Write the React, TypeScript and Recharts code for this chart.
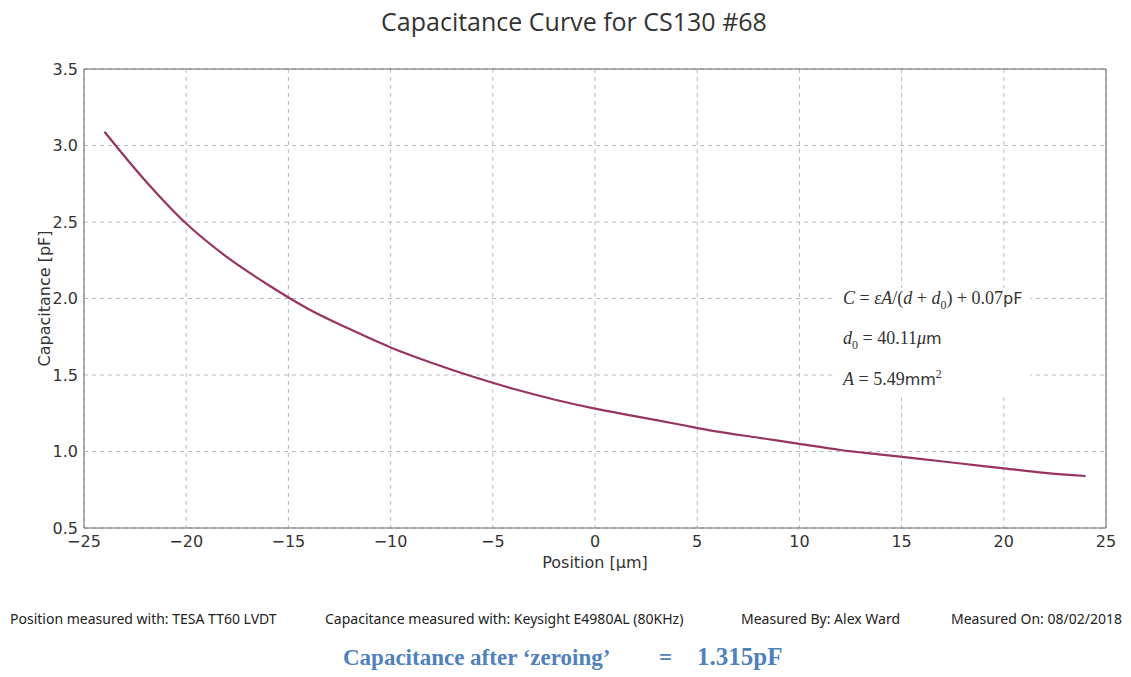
import React from "react";
import {
  LineChart,
  Line,
  XAxis,
  YAxis,
  CartesianGrid,
  ReferenceArea,
} from "recharts";

// position [µm] and capacitance [pF]
const POSITION = [
  -24, -22, -20, -18, -16, -14, -12, -10, -8, -6, -4, -2, 0, 2, 4, 6, 8, 10, 12,
  14, 16, 18, 20, 22, 24,
];
const CAPACITANCE = [
  3.09, 2.77, 2.49, 2.27, 2.09, 1.93, 1.8, 1.68, 1.58, 1.49, 1.41, 1.34, 1.28,
  1.23, 1.18, 1.13, 1.09, 1.05, 1.01, 0.98, 0.95, 0.92, 0.89, 0.86, 0.84,
];
const X_TICKS = [-25, -20, -15, -10, -5, 0, 5, 10, 15, 20, 25];
const Y_TICKS = [0.5, 1.0, 1.5, 2.0, 2.5, 3.0, 3.5];

const FOOTER = [
  { text: "Position measured with: TESA TT60 LVDT", left: 10 },
  { text: "Capacitance measured with: Keysight E4980AL (80KHz)", left: 325 },
  { text: "Measured By: Alex Ward", left: 741 },
  { text: "Measured On: 08/02/2018", left: 951 },
];

const data = POSITION.map((x, i) => ({ x, c: CAPACITANCE[i] }));

const tickStyle = { fill: "#333", fontSize: 16, fontFamily: "DejaVu Sans" };
const minus = (v: number) => (v < 0 ? `\u2212${Math.abs(v)}` : `${v}`);

const serif = { fontFamily: "Liberation Serif", fontSize: 18, color: "#333" };
const it = { fontStyle: "italic" as const };
const sans = { fontFamily: "DejaVu Sans", fontSize: 16 };

export default function App() {
  return (
    <div
      style={{
        position: "absolute",
        left: 0,
        top: 0,
        width: 1131,
        height: 677,
        background: "#fff",
        overflow: "hidden",
      }}
    >
      <div
        style={{
          position: "absolute",
          top: 4,
          left: 0,
          width: 1148,
          textAlign: "center",
          fontFamily: "Open Sans",
          fontSize: 25,
          color: "#333",
        }}
      >
        Capacitance Curve for CS130 #68
      </div>

      <div style={{ position: "absolute", left: 0, top: 0 }}>
        <LineChart
          width={1131}
          height={580}
          data={data}
          margin={{ top: 69, right: 25, bottom: 0, left: 24 }}
        >
          <CartesianGrid stroke="#bbb" strokeDasharray="4 4" />
          <XAxis
            dataKey="x"
            type="number"
            domain={[-25, 25]}
            ticks={X_TICKS}
            tickFormatter={minus}
            tick={tickStyle}
            tickLine={false}
            axisLine={false}
            height={52}
            tickMargin={2}
            label={{
              value: "Position [\u03bcm]",
              position: "insideBottom",
              offset: 12,
              style: { fill: "#333", fontSize: 16, fontFamily: "DejaVu Sans" },
            }}
          />
          <YAxis
            type="number"
            domain={[0.5, 3.5]}
            ticks={Y_TICKS}
            tickFormatter={(v: number) => v.toFixed(1)}
            tick={tickStyle}
            tickLine={false}
            axisLine={false}
            width={60}
            tickMargin={0}
            label={{
              value: "Capacitance [pF]",
              angle: -90,
              position: "insideLeft",
              offset: 20,
              style: {
                fill: "#333",
                fontSize: 16,
                fontFamily: "DejaVu Sans",
                textAnchor: "middle",
              },
            }}
          />
          <ReferenceArea
            x1={11.8}
            x2={21.3}
            y1={1.37}
            y2={2.07}
            fill="#fff"
            fillOpacity={1}
            stroke="none"
          />
          <ReferenceArea
            x1={-25}
            x2={25}
            y1={0.5}
            y2={3.5}
            fill="none"
            stroke="#666"
            strokeWidth={1}
          />
          <Line
            dataKey="c"
            type="monotone"
            stroke="#973462"
            strokeWidth={2.2}
            dot={false}
            isAnimationActive={false}
          />
        </LineChart>
      </div>

      <div style={{ position: "absolute", left: 843, top: 288, ...serif }}>
        <span style={it}>C</span> = <span style={it}>εA</span>/(
        <span style={it}>d</span> + <span style={it}>d</span>
        <sub style={{ fontSize: 12 }}>0</sub>) + 0.07<span style={sans}>pF</span>
      </div>
      <div style={{ position: "absolute", left: 843, top: 328, ...serif }}>
        <span style={it}>d</span>
        <sub style={{ fontSize: 12 }}>0</sub> = 40.11<span style={it}>μ</span>
        <span style={sans}>m</span>
      </div>
      <div style={{ position: "absolute", left: 843, top: 367, ...serif }}>
        <span style={it}>A</span> = 5.49<span style={sans}>mm</span>
        <sup style={{ fontSize: 12 }}>2</sup>
      </div>

      {FOOTER.map((f) => (
        <div
          key={f.text}
          style={{
            position: "absolute",
            left: f.left,
            top: 609,
            fontFamily: "Noto Sans",
            fontSize: 14,
            color: "#222",
            whiteSpace: "nowrap",
          }}
        >
          {f.text}
        </div>
      ))}

      <div
        style={{
          position: "absolute",
          top: 645,
          left: 343,
          fontFamily: "Liberation Serif",
          fontWeight: "bold",
          fontSize: 23,
          color: "#4f81bd",
          whiteSpace: "pre",
        }}
      >
        {"Capacitance after \u2018zeroing\u2019"}
        <span style={{ position: "absolute", left: 316 }}>=</span>
        <span style={{ position: "absolute", left: 354, fontSize: 25, top: -2 }}>
          1.315pF
        </span>
      </div>
    </div>
  );
}
